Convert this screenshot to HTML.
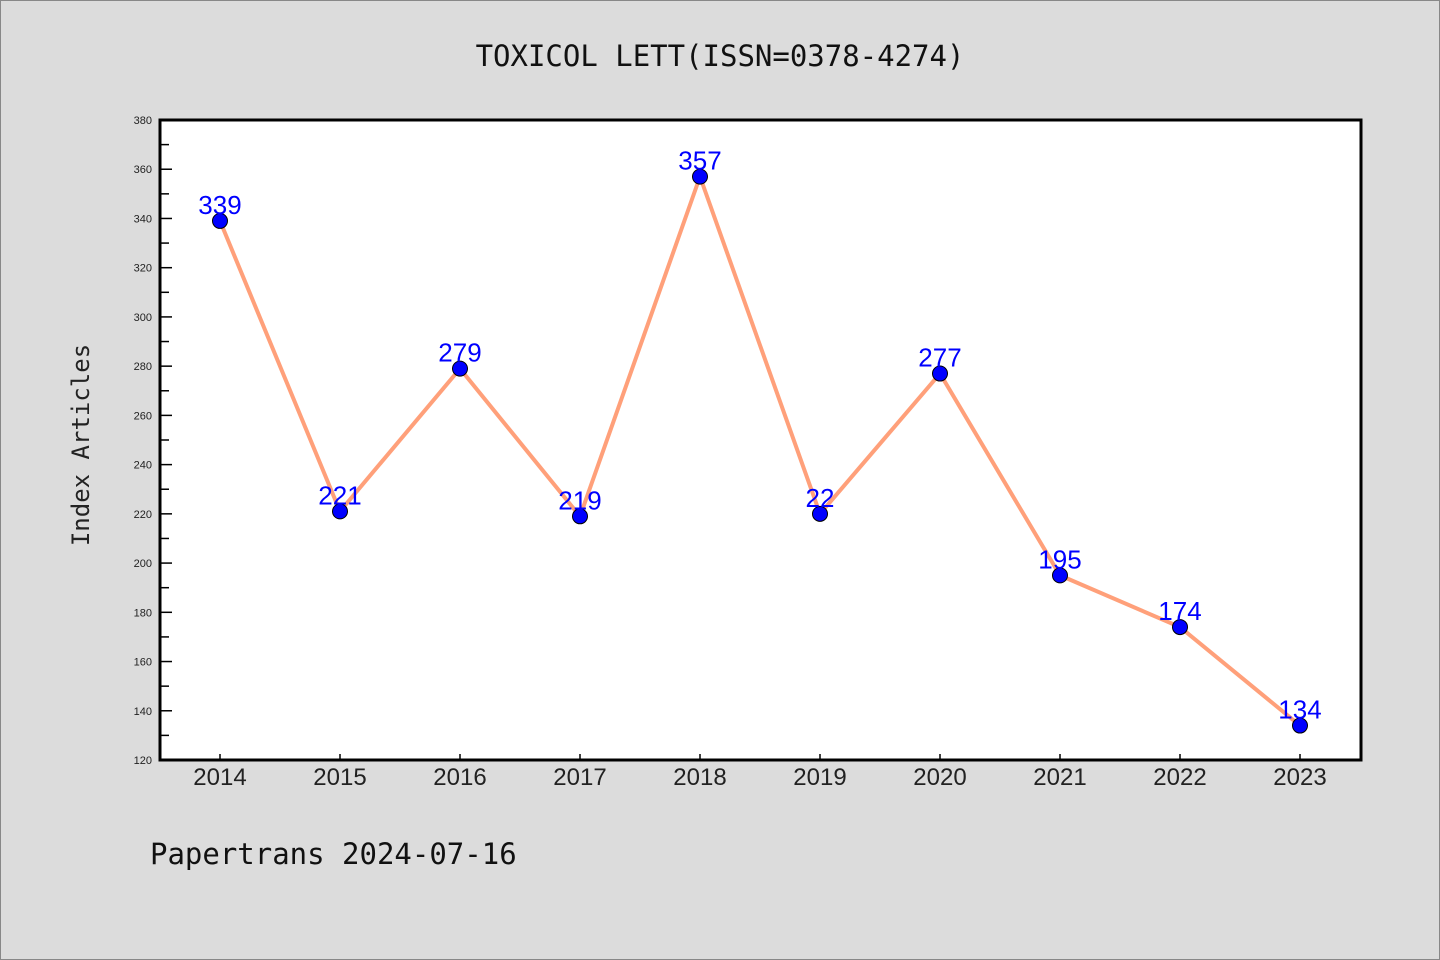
<!DOCTYPE html>
<html><head><meta charset="utf-8"><style>
body{margin:0;background:#dcdcdc;}
svg{display:block;font-family:"Liberation Sans","DejaVu Sans",sans-serif;}
</style></head><body>
<svg id="chart" width="1440" height="960" xmlns="http://www.w3.org/2000/svg">
<rect x="0.5" y="0.5" width="1439" height="959" fill="#dcdcdc" stroke="#888"/>
<text x="720" y="66" text-anchor="middle" font-size="29" font-family="'DejaVu Sans Mono','Liberation Mono',monospace" fill="#111">TOXICOL LETT(ISSN=0378-4274)</text>
<rect x="160" y="120" width="1201" height="640" fill="#fff"/>
<g id="ticks"></g>
<g id="marks"></g>
<rect x="160" y="120" width="1201" height="640" fill="none" stroke="#000" stroke-width="3"/>
<text transform="translate(89,445) rotate(-90)" text-anchor="middle" font-size="24" font-family="'DejaVu Sans Mono','Liberation Mono',monospace" fill="#222">Index Articles</text>
<text x="150" y="864" font-size="29" font-family="'DejaVu Sans Mono','Liberation Mono',monospace" fill="#111">Papertrans 2024-07-16</text>
</svg>
<script>
const categories=["2014","2015","2016","2017","2018","2019","2020","2021","2022","2023"];
const values=[339,221,279,219,357,220,277,195,174,134];
const valueLabels=["339","221","279","219","357","22","277","195","174","134"];
const yTicks=[120,140,160,180,200,220,240,260,280,300,320,340,360,380];
const NS="http://www.w3.org/2000/svg";
const X0=160,X1=1361,Y0=760,Y1=120,YMIN=120,YMAX=380;
const xs=i=>220+i*120;
const ys=v=>Y0-(v-YMIN)/(YMAX-YMIN)*(Y0-Y1);
function mk(t,a,p){const e=document.createElementNS(NS,t);for(const k in a)e.setAttribute(k,a[k]);p.appendChild(e);return e;}
const tg=document.getElementById('ticks'),mg=document.getElementById('marks');
yTicks.forEach((v,i)=>{
 const l=mk('line',{x1:X0,x2:X0+12,y1:ys(v),y2:ys(v),stroke:'#000','stroke-width':1.5},tg);
 
 
 const t=mk('text',{x:152,y:ys(v)+4,'text-anchor':'end','font-size':11,fill:'#222'},tg);
 t.textContent=v;
 
 
 if(i<yTicks.length-1){const m=mk('line',{x1:X0,x2:X0+9,y1:ys(v+10),y2:ys(v+10),stroke:'#000','stroke-width':1.5},tg);
 
 }
});
categories.forEach((c,i)=>{
 const l=mk('line',{x1:xs(i),x2:xs(i),y1:Y0,y2:Y0-6,stroke:'#000','stroke-width':1.5},tg);
 
 
 const t=mk('text',{x:xs(i),y:785,'text-anchor':'middle','font-size':24,fill:'#222'},tg);
 t.textContent=c;
 
 
});
const pl=mk('polyline',{points:values.map((v,i)=>xs(i)+','+ys(v)).join(' '),fill:'none',stroke:'#ffa07a','stroke-width':4,'stroke-linejoin':'round'},mg);


values.forEach((v,i)=>{
 const c=mk('circle',{cx:xs(i),cy:ys(v),r:7.5,fill:'#0000ff',stroke:'#000','stroke-width':1},mg);
 
 
 const t=mk('text',{x:xs(i),y:ys(v)-7,'text-anchor':'middle','font-size':26,fill:'#0000ff'},mg);
 t.textContent=valueLabels[i];
 
 
});
</script>
</body></html>
